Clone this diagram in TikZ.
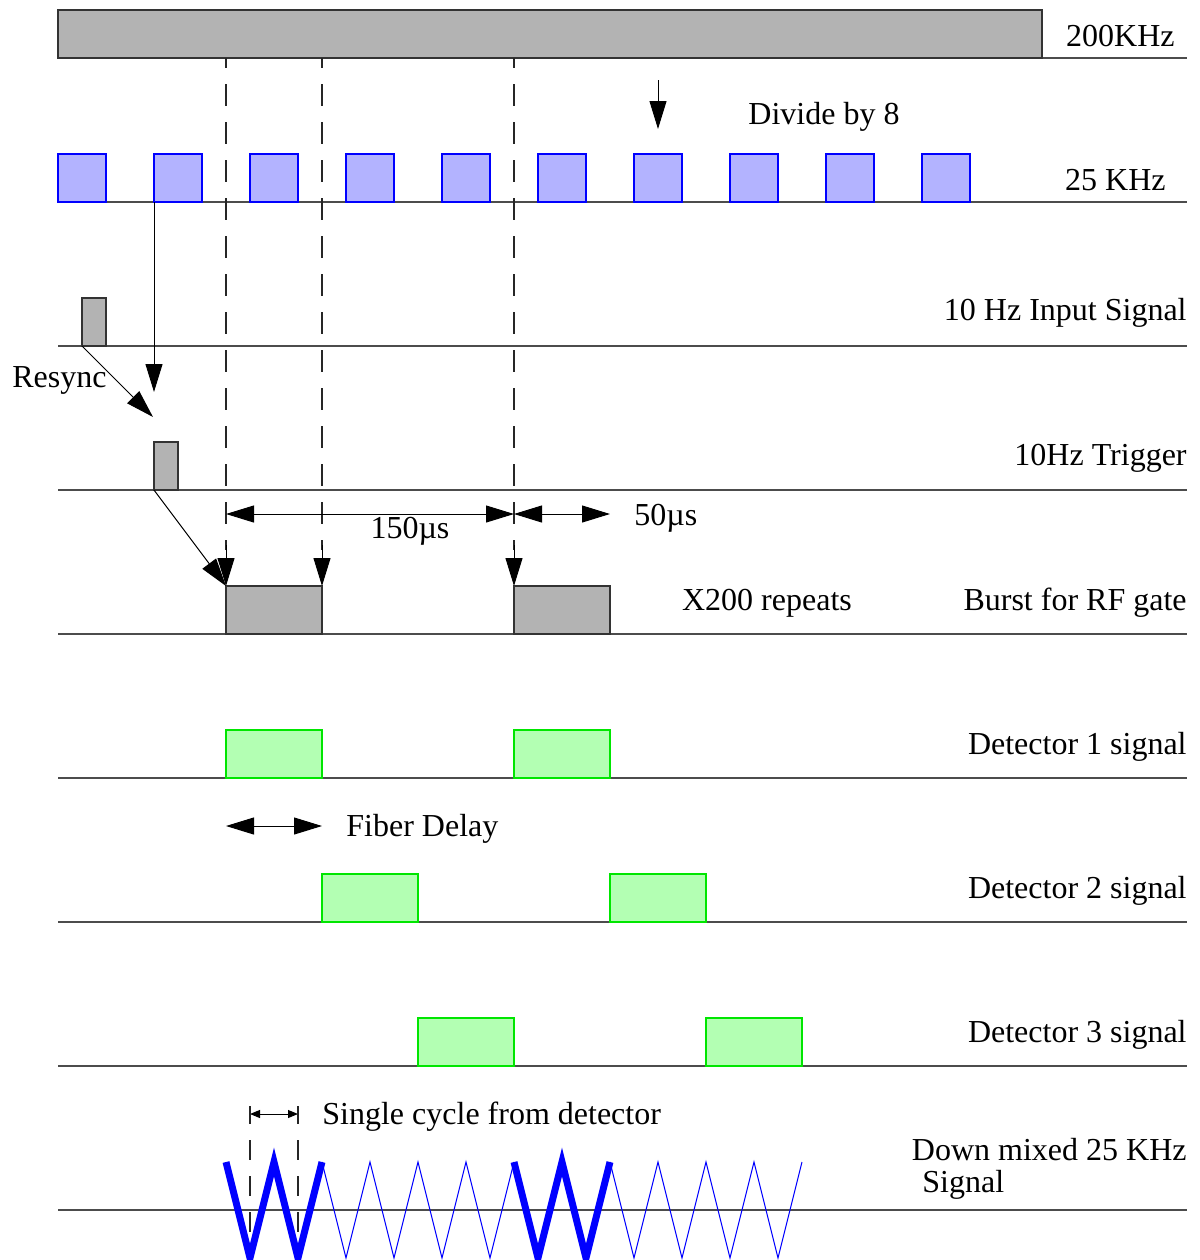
\documentclass[tikz,border=0pt]{standalone}
\usepackage{fontspec}
\setmainfont{Liberation Serif}
\usetikzlibrary{arrows.meta}
\definecolor{boxgray}{HTML}{B3B3B3}
\definecolor{boxblue}{HTML}{B3B3FF}
\definecolor{boxgreen}{HTML}{B3FFB3}
\definecolor{greenline}{HTML}{00E600}
\tikzset{
  baseln/.style={draw=black!70, line width=1pt},
  bx/.style={inner sep=0pt, outer sep=0pt, anchor=south west, line width=0.7pt},
  graybox/.style={bx, draw=black!80, fill=boxgray},
  bluebox/.style={bx, draw=blue, fill=boxblue, minimum width=24pt, minimum height=24pt},
  greenbox/.style={bx, draw=greenline, fill=boxgreen, minimum width=48pt, minimum height=24pt},
  vdash/.style={draw=black!85, line width=0.6pt, dash pattern=on 11pt off 8pt, dash phase=6pt},
  sdash/.style={draw=black!85, line width=0.6pt, dash pattern=on 10pt off 8pt},
  arr/.style={-{Triangle[length=14pt,width=8.5pt]}, line width=0.5pt},
  darr/.style={{Triangle[length=14pt,width=8.5pt]}-{Triangle[length=14pt,width=8.5pt]}, line width=0.5pt},
  sarr/.style={{Triangle[length=5pt,width=4pt]}-{Triangle[length=5pt,width=4pt]}, line width=0.5pt},
  lbl/.style={font=\fontsize{16}{19}\selectfont, inner sep=0pt, anchor=base east},
  lbll/.style={font=\fontsize{16}{19}\selectfont, inner sep=0pt, anchor=base west},
  lblc/.style={font=\fontsize{16}{19}\selectfont, inner sep=0pt, anchor=base},
  thinwave/.style={draw=blue, line width=0.5pt},
  thickwave/.style={draw=blue, line width=3.5pt, miter limit=10},
}
\begin{document}
\begin{tikzpicture}[x=0.5pt,y=-0.5pt]
\useasboundingbox (0,0) rectangle (1200,1260);
% baselines
\foreach \yy in {58,202,346,490,634,778,922,1066,1210}
  \draw[baseln] (58,\yy) -- (1187,\yy);
% 200 KHz bar
\node[graybox, minimum width=492pt, minimum height=24pt] (clk) at (58,58) {};
% dashed verticals
\draw[vdash] (226,58) -- (226,550);
\draw[vdash] (322,58) -- (322,550);
\draw[vdash] (514,58) -- (514,550);
% 25 KHz squares
\foreach \i/\xx in {1/58,2/154,3/250,4/346,5/442,6/538,7/634,8/730,9/826,10/922}
  \node[bluebox] (q\i) at (\xx,202) {};
% divide by 8 arrow
\coordinate (d8) at (658,80);
\coordinate (d8e) at (658,129);
\draw[arr] (d8) -- (d8e);
% input pulse and trigger
\node[graybox, minimum width=12pt, minimum height=24pt] (pin) at (82,346) {};
\node[graybox, minimum width=12pt, minimum height=24pt] (trig) at (154,490) {};
\coordinate (a1) at (154,392);
\draw[arr] (q2.south west) -- (a1);
\coordinate (r1) at (153,417);
\draw[arr] (pin.south west) -- (r1);
% bursts
\node[graybox, minimum width=48pt, minimum height=24pt] (b1) at (226,634) {};
\node[graybox, minimum width=48pt, minimum height=24pt] (b2) at (514,634) {};
\coordinate (m1) at (322,586);
\coordinate (t1) at (226,545);
\coordinate (t2) at (322,545);
\coordinate (t3) at (514,545);
\draw[arr] (trig.south west) -- (b1.north west);
\draw[arr] (t1) -- (b1.north west);
\draw[arr] (t2) -- (m1);
\draw[arr] (t3) -- (b2.north west);
% dimension arrows
\coordinate (da) at (226,514);
\coordinate (db) at (514,514);
\coordinate (dc) at (610,514);
\draw[darr] (da) -- (db);
\draw[darr] (db) -- (dc);
% detectors
\node[greenbox] (g11) at (226,778) {};
\node[greenbox] (g12) at (514,778) {};
\node[greenbox] (g21) at (322,922) {};
\node[greenbox] (g22) at (610,922) {};
\node[greenbox] (g31) at (418,1066) {};
\node[greenbox] (g32) at (706,1066) {};
% fiber delay
\coordinate (fa) at (226,826);
\coordinate (fb) at (322,826);
\draw[darr] (fa) -- (fb);
% single cycle
\coordinate (sa) at (250,1114);
\coordinate (sb) at (298,1114);
\draw[sarr] (sa) -- (sb);
\draw[line width=0.6pt, draw=black!85] (250,1106) -- (250,1124);
\draw[line width=0.6pt, draw=black!85] (298,1106) -- (298,1124);
\draw[sdash] (250,1140) -- (250,1262);
\draw[sdash] (298,1140) -- (298,1262);
% waves
\draw[thinwave] (322,1162) -- (346,1258) -- (370,1162) -- (394,1258) -- (418,1162) -- (442,1258) -- (466,1162) -- (490,1258) -- (514,1162);
\draw[thinwave] (610,1162) -- (634,1258) -- (658,1162) -- (682,1258) -- (706,1162) -- (730,1258) -- (754,1162) -- (778,1258) -- (802,1162);
\draw[thickwave] (226,1162) -- (250,1258) -- (274,1162) -- (298,1258) -- (322,1162);
\draw[thickwave] (514,1162) -- (538,1258) -- (562,1162) -- (586,1258) -- (610,1162);
% labels
\node[lbl] (l0) at (1175,46) {200KHz};
\node[lbll] (l1) at (748,124) {Divide by 8};
\node[lbl] (l2) at (1166,190) {25 KHz};
\node[lbl] (l3) at (1187,320) {10 Hz Input Signal};
\node[lbll] (l4) at (12,387) {Resync};
\node[lbl] (l5) at (1187,465) {10Hz Trigger};
\node[lblc] (l6) at (410,538) {150µs};
\node[lbll] (l7) at (634,525) {50µs};
\node[lblc] (l8) at (767,610) {X200 repeats};
\node[lbl] (l9) at (1187,610) {Burst for RF gate};
\node[lbl] (l10) at (1187,754) {Detector 1 signal};
\node[lbll] (l11) at (346,836) {Fiber Delay};
\node[lbl] (l12) at (1187,898) {Detector 2 signal};
\node[lbl] (l13) at (1187,1042) {Detector 3 signal};
\node[lbll] (l14) at (322,1124) {Single cycle from detector};
\node[lbl] (l15) at (1187,1160) {Down mixed 25 KHz};
\node[lbll] (l16) at (922,1192) {Signal};
\end{tikzpicture}
\end{document}
